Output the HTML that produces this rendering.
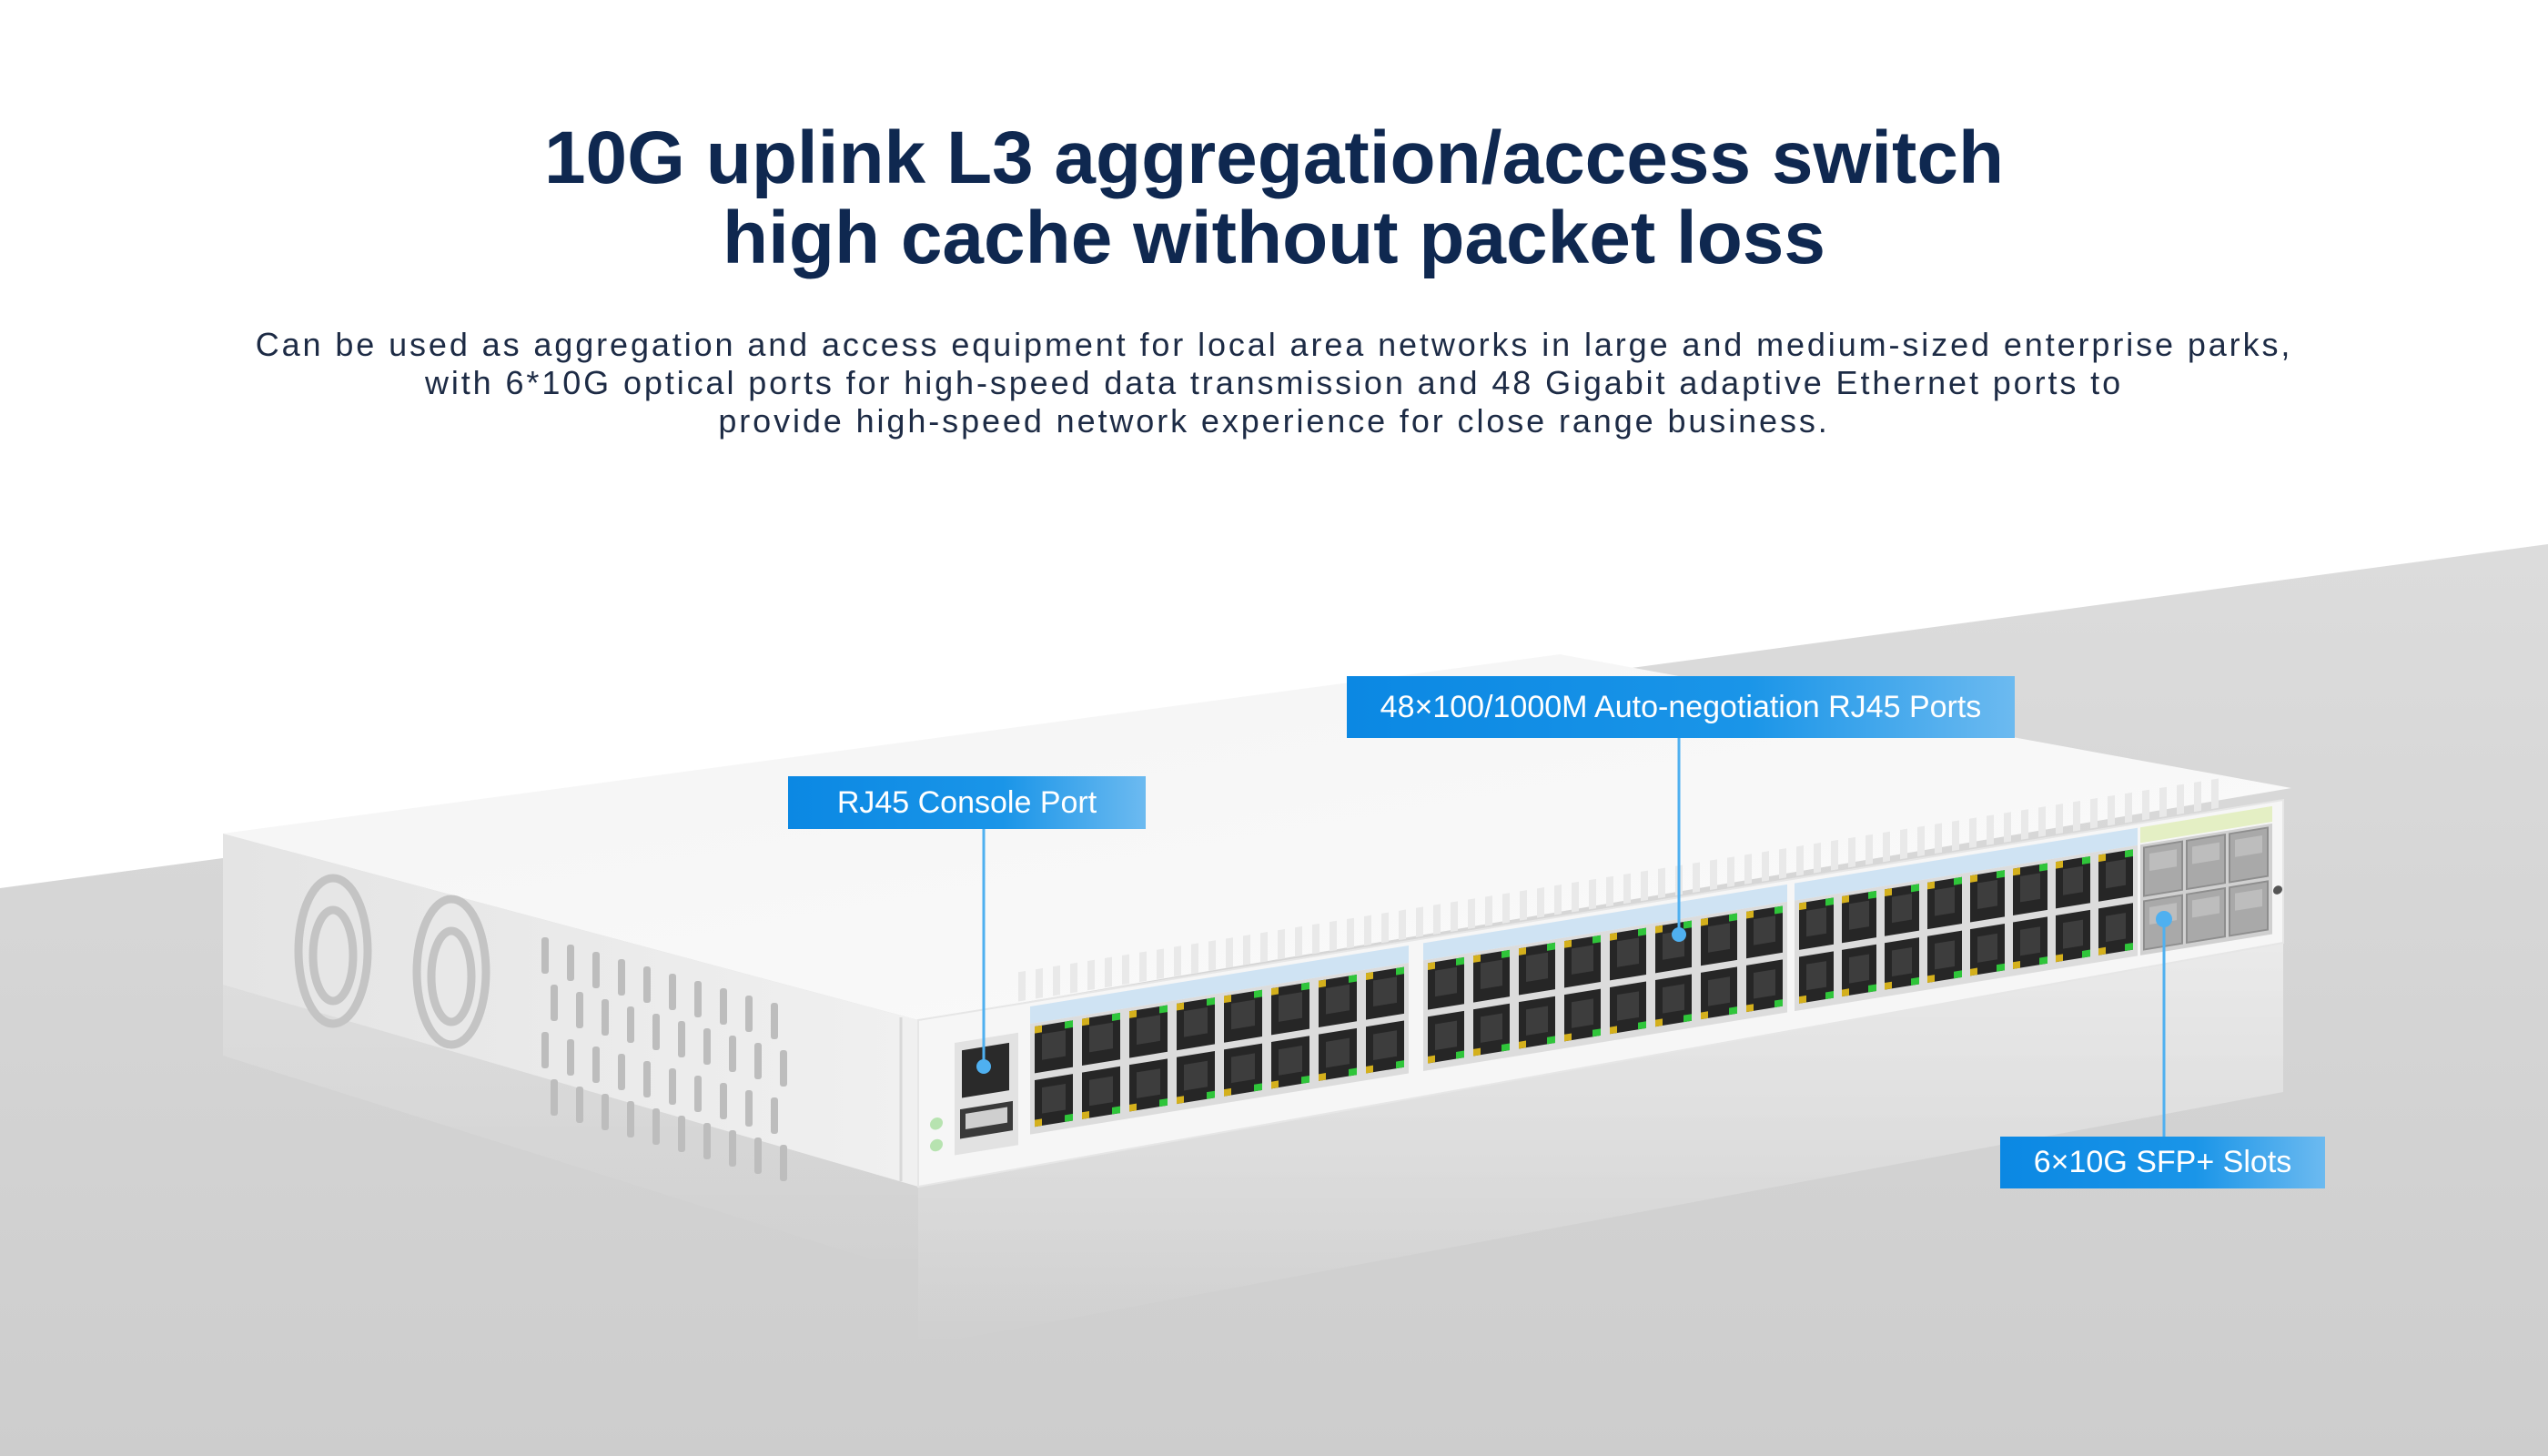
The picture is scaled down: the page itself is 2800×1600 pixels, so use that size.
<!DOCTYPE html>
<html><head><meta charset="utf-8">
<style>
html,body{margin:0;padding:0;width:2800px;height:1600px;overflow:hidden;background:#fff;}
.t{position:absolute;left:0;width:2800px;text-align:center;font-family:"Liberation Sans",sans-serif;color:#0f2850;}
.h{font-weight:bold;font-size:82px;line-height:88px;top:130px;}
.p{font-size:36px;line-height:42px;top:358px;color:#1d2b45;letter-spacing:2.9px;}
.c{position:absolute;font-family:"Liberation Sans",sans-serif;color:#fff;display:flex;align-items:center;justify-content:center;background:linear-gradient(90deg,#0b88e3,#1a95e8 60%,#6cbaf0);}
svg{position:absolute;left:0;top:0;}
</style></head><body>
<svg width="2800" height="1600" viewBox="0 0 2800 1600">
<defs>
<linearGradient id="fl" x1="0" y1="0" x2="0" y2="1"><stop offset="0" stop-color="#dcdcdc"/><stop offset="1" stop-color="#cdcdcd"/></linearGradient>
<linearGradient id="top" x1="0" y1="0" x2="1" y2="1"><stop offset="0" stop-color="#f4f4f4"/><stop offset="1" stop-color="#fbfbfb"/></linearGradient>
<linearGradient id="side" x1="0" y1="0" x2="1" y2="0"><stop offset="0" stop-color="#e4e4e4"/><stop offset="1" stop-color="#f0f0f0"/></linearGradient>
<linearGradient id="refl" x1="0" y1="0" x2="0" y2="1"><stop offset="0" stop-color="#fff" stop-opacity="0.5"/><stop offset="1" stop-color="#fff" stop-opacity="0"/></linearGradient>
</defs>
<polygon points="0,976 2800,598 2800,1600 0,1600" fill="url(#fl)"/>
<polygon points="1009,1304 2509,1036 2509,1200 1009,1480" fill="url(#refl)"/>
<polygon points="245,1080 1009,1304 1009,1400 245,1160" fill="url(#refl)" opacity="0.4"/>
<polygon points="245,916 1714,719 2518,866 1009,1121" fill="url(#top)"/>
<polygon points="245,916 1009,1121 1009,1304 245,1082" fill="url(#side)"/>
<line x1="990" y1="1118" x2="990" y2="1298" stroke="#d8d8d8" stroke-width="3"/>
<g fill="none" stroke="#c4c4c4" stroke-width="9">
<ellipse cx="366" cy="1045" rx="38" ry="80"/><ellipse cx="366" cy="1050" rx="22" ry="50"/>
<ellipse cx="496" cy="1068" rx="38" ry="80"/><ellipse cx="496" cy="1073" rx="22" ry="50"/>
</g>
<g id="vents" fill="#bdbdbd"></g>
<polygon points="1009,1121 2509,879 2509,1036 1009,1304" fill="#f6f6f6" stroke="#e6e6e6" stroke-width="2"/>
<g id="front" transform="matrix(1,-0.1613,0,0.95,1009,1124)"></g>
</svg>
<div class="t h">10G uplink L3 aggregation/access switch<br>high cache without packet loss</div>
<div class="t p">Can be used as aggregation and access equipment for local area networks in large and medium-sized enterprise parks,<br>with 6*10G optical ports for high-speed data transmission and 48 Gigabit adaptive Ethernet ports to<br>provide high-speed network experience for close range business.</div>
<svg width="2800" height="1600" style="pointer-events:none">
<g stroke="#4fb0f0" stroke-width="3"><line x1="1845" y1="811" x2="1845" y2="1027"/><line x1="1081" y1="911" x2="1081" y2="1172"/><line x1="2378" y1="1010" x2="2378" y2="1250"/></g>
<g fill="#4fb0f0"><circle cx="1845" cy="1027" r="8"/><circle cx="1081" cy="1172" r="8"/><circle cx="2378" cy="1010" r="9"/></g>
</svg>
<div class="c" style="left:1480px;top:743px;width:734px;height:68px;font-size:34px;">48×100/1000M Auto-negotiation RJ45 Ports</div>
<div class="c" style="left:866px;top:853px;width:393px;height:58px;font-size:34px;">RJ45 Console Port</div>
<div class="c" style="left:2198px;top:1249px;width:357px;height:57px;font-size:34px;">6×10G SFP+ Slots</div>
<script>
var NS="http://www.w3.org/2000/svg";
function el(p,n,a){var e=document.createElementNS(NS,n);for(var k in a)e.setAttribute(k,a[k]);p.appendChild(e);return e;}
var v=document.getElementById('vents');
for(var i=0;i<10;i++){var x=595+i*28,y0=1030+i*8;for(var j=0;j<4;j++){el(v,'rect',{x:x+(j%2)*10,y:y0+j*52,width:8,height:40,rx:3});}}
var f=document.getElementById('front');
for(var i=0;i<70;i++){el(f,'rect',{x:110+i*19,y:-40,width:8,height:34,fill:'#e9e9e9'});}
el(f,'rect',{x:40,y:30,width:70,height:130,fill:'#e2e2e2'});
el(f,'rect',{x:48,y:40,width:52,height:55,fill:'#2a2a2a'});
el(f,'rect',{x:46,y:108,width:58,height:34,fill:'#3a3a3a'});
el(f,'rect',{x:52,y:114,width:46,height:18,fill:'#cfcfcf'});
el(f,'circle',{cx:20,cy:120,r:7,fill:'#b7e3b0'});el(f,'circle',{cx:20,cy:145,r:7,fill:'#b7e3b0'});
var groups=[[128,52,42],[560,50,40],[968,47,38]];
groups.forEach(function(g){
 var w=7*g[1]+g[2]+10;
 el(f,'rect',{x:g[0]-5,y:2,width:w,height:20,fill:'#cfe3f3'});
 el(f,'rect',{x:g[0]-5,y:22,width:w,height:128,fill:'#dcdcdc'});
 for(var c=0;c<8;c++){for(var r=0;r<2;r++){var x=g[0]+c*g[1],y=r?88:26;
  el(f,'rect',{x:x,y:y,width:g[2],height:54,fill:'#262626'});
  el(f,'rect',{x:x+8,y:y+10,width:g[2]-16,height:30,fill:'#3d3d3d'});
  el(f,'rect',{x:x,y:r?y+46:y,width:8,height:8,fill:'#d4b01c'});
  el(f,'rect',{x:x+g[2]-9,y:r?y+46:y,width:9,height:8,fill:'#2fc53a'});
 }}
});
el(f,'rect',{x:1343,y:2,width:145,height:18,fill:'#e4efc4'});
el(f,'rect',{x:1343,y:22,width:145,height:128,fill:'#d0d0d0'});
for(var c=0;c<3;c++){for(var r=0;r<2;r++){el(f,'rect',{x:1347+c*47,y:26+r*62,width:42,height:56,fill:'#a9a9a9',stroke:'#8e8e8e','stroke-width':2});el(f,'rect',{x:1353+c*47,y:34+r*62,width:30,height:20,fill:'#bdbdbd'});}}
el(f,'circle',{cx:1494,cy:100,r:5,fill:'#555'});
</script>
</body></html>
